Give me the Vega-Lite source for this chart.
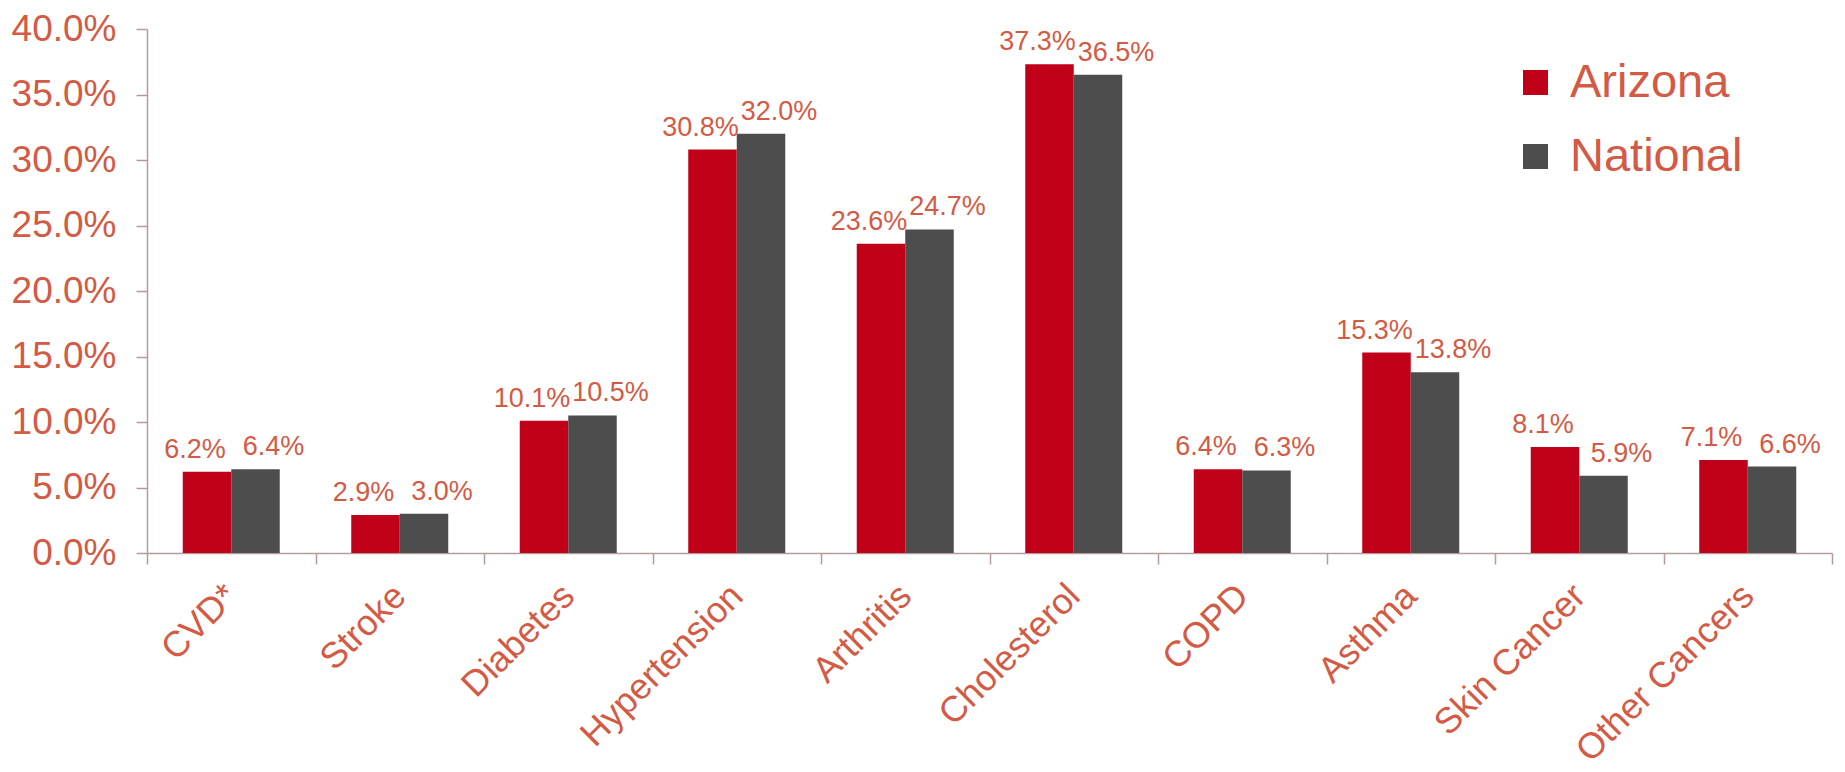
{
  "$schema": "https://vega.github.io/schema/vega-lite/v6.json",
  "autosize": "none",
  "width": 1685,
  "height": 524,
  "padding": {"left": 147, "top": 29, "right": 13, "bottom": 219},
  "background": "white",
  "config": {"view": {"stroke": null}, "font": "Liberation Sans"},
  "data": {
    "values": [
      {"condition": "CVD*", "region": "Arizona", "rate": 0.062},
      {"condition": "CVD*", "region": "National", "rate": 0.064},
      {"condition": "Stroke", "region": "Arizona", "rate": 0.029},
      {"condition": "Stroke", "region": "National", "rate": 0.030},
      {"condition": "Diabetes", "region": "Arizona", "rate": 0.101},
      {"condition": "Diabetes", "region": "National", "rate": 0.105},
      {"condition": "Hypertension", "region": "Arizona", "rate": 0.308},
      {"condition": "Hypertension", "region": "National", "rate": 0.320},
      {"condition": "Arthritis", "region": "Arizona", "rate": 0.236},
      {"condition": "Arthritis", "region": "National", "rate": 0.247},
      {"condition": "Cholesterol", "region": "Arizona", "rate": 0.373},
      {"condition": "Cholesterol", "region": "National", "rate": 0.365},
      {"condition": "COPD", "region": "Arizona", "rate": 0.064},
      {"condition": "COPD", "region": "National", "rate": 0.063},
      {"condition": "Asthma", "region": "Arizona", "rate": 0.153},
      {"condition": "Asthma", "region": "National", "rate": 0.138},
      {"condition": "Skin Cancer", "region": "Arizona", "rate": 0.081},
      {"condition": "Skin Cancer", "region": "National", "rate": 0.059},
      {"condition": "Other Cancers", "region": "Arizona", "rate": 0.071},
      {"condition": "Other Cancers", "region": "National", "rate": 0.066}
    ]
  },
  "encoding": {
    "x": {
      "field": "condition", "type": "nominal", "sort": null,
      "scale": {"paddingInner": 0, "paddingOuter": 0},
      "axis": {
        "title": null, "labelAngle": -45, "labelAlign": "right", "labelBaseline": "middle",
        "labelFontSize": 36, "labelColor": "#D35A44", "labelPadding": 26, "labelLimit": 500,
        "tickBand": "extent", "tickSize": 11, "tickColor": "#B39C9C", "tickWidth": 1.5,
        "domainColor": "#B39C9C", "domainWidth": 1.5
      }
    },
    "xOffset": {"field": "region", "type": "nominal", "scale": {"paddingOuter": 0.737, "paddingInner": 0}},
    "y": {
      "field": "rate", "type": "quantitative",
      "scale": {"domain": [0, 0.4]},
      "axis": {
        "title": null, "values": [0, 0.05, 0.1, 0.15, 0.2, 0.25, 0.3, 0.35, 0.4], "format": ".1%",
        "labelFontSize": 37, "labelColor": "#D35A44", "labelPadding": 20,
        "tickSize": 11, "tickColor": "#B39C9C", "tickWidth": 1.5,
        "domainColor": "#B39C9C", "domainWidth": 1.5, "grid": false
      }
    }
  },
  "layer": [
    {
      "mark": {"type": "bar"},
      "encoding": {
        "color": {
          "field": "region", "type": "nominal",
          "scale": {"domain": ["Arizona", "National"], "range": ["#C00018", "#4D4D4D"]},
          "legend": {
            "title": null, "orient": "none", "legendX": 1365, "legendY": 30,
            "symbolType": "square", "symbolSize": 625, "symbolStrokeWidth": 0,
            "labelFontSize": 47, "labelColor": "#D35A44", "labelOffset": 11, "labelLimit": 500,
            "rowPadding": 26, "padding": 0
          }
        }
      }
    },
    {
      "transform": [{"filter": "datum.region === 'Arizona'"}],
      "mark": {"type": "text", "dx": -12, "dy": -14, "baseline": "alphabetic", "fontSize": 27, "color": "#D35A44"},
      "encoding": {"text": {"field": "rate", "type": "quantitative", "format": ".1%"}}
    },
    {
      "transform": [{"filter": "datum.region === 'National'"}],
      "mark": {"type": "text", "dx": 18, "dy": -14, "baseline": "alphabetic", "fontSize": 27, "color": "#D35A44"},
      "encoding": {"text": {"field": "rate", "type": "quantitative", "format": ".1%"}}
    }
  ]
}
